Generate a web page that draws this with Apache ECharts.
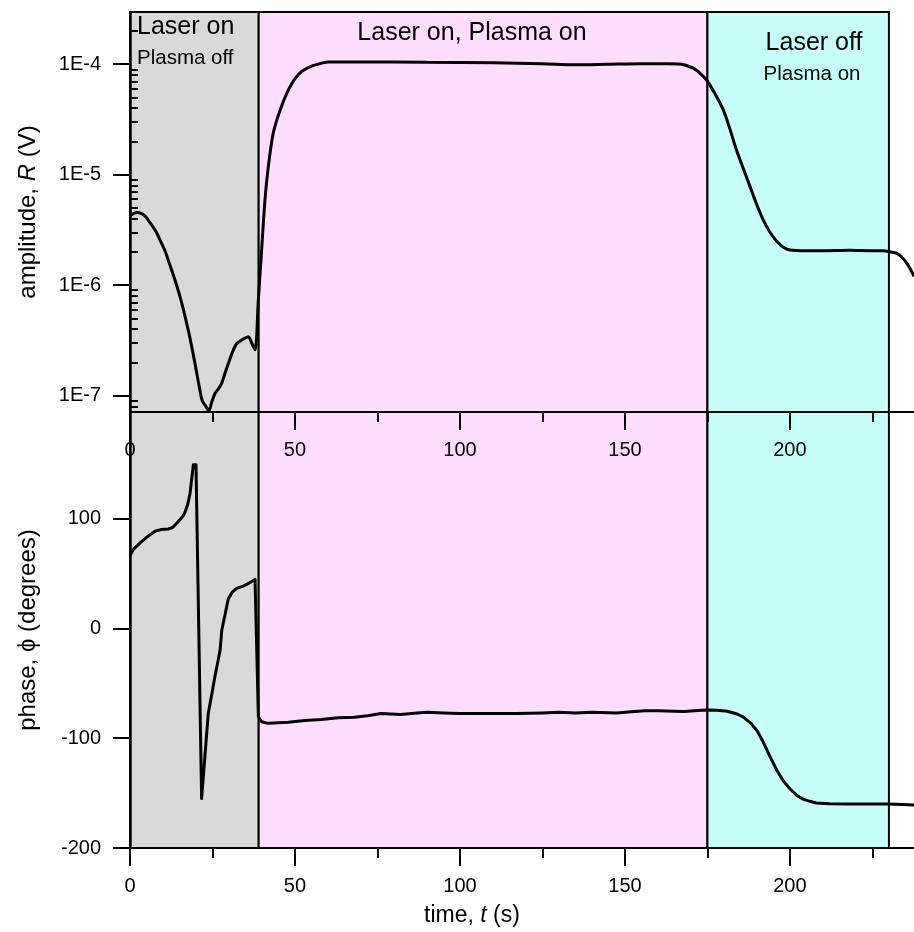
<!DOCTYPE html>
<html>
<head>
<meta charset="utf-8">
<script src="https://cdn.jsdelivr.net/npm/echarts@6/dist/echarts.min.js"></script>
<style>
  html, body { margin: 0; padding: 0; background: #fff; }
  #chart { width: 914px; height: 932px; }
</style>
</head>
<body>
<div id="chart"></div>
<script>
// Lock-in amplitude R (V) versus time t (s)
const ampTime = [0, 1, 2.3, 4.5, 6, 7.6, 9, 10.6, 12, 13.6, 15.2, 16.7, 18.2, 19.7, 21, 21.9, 23, 23.9,
  24.8, 25.8, 26.8, 27.8, 28.8, 29.8, 31, 32.3, 34, 35.8, 36.9, 37.9, 38.9, 39.9, 40.9, 41.9, 43.4,
  45.5, 48, 50, 52, 55, 58, 60, 70, 90, 110, 125, 135, 145, 155, 163, 167, 170.7, 172.7, 174.7, 177,
  179.8, 181.8, 183.8, 185.8, 187.9, 189.9, 191.9, 194, 196, 198, 200, 205, 210, 218, 225, 228.3,
  230.5, 232.3, 234, 235.4, 236.5, 237.6];
const amplitude = [4.2e-6, 4.45e-6, 4.55e-6, 4.25e-6, 3.7e-6, 3.15e-6, 2.6e-6, 2.05e-6, 1.55e-6, 1.12e-6,
  7.8e-7, 5.2e-7, 3.3e-7, 1.95e-7, 1.2e-7, 9e-8, 8e-8, 7.3e-8,
  8.8e-8, 1.05e-7, 1.15e-7, 1.3e-7, 1.6e-7, 1.95e-7, 2.45e-7, 2.95e-7, 3.2e-7, 3.42e-7, 3.0e-7, 2.6e-7,
  7.4e-7, 2.1e-6, 5.9e-6, 1.17e-5, 2.37e-5,
  3.86e-5, 5.85e-5, 7.4e-5, 8.6e-5, 9.6e-5, 1.02e-4, 1.05e-4, 1.05e-4, 1.04e-4, 1.03e-4, 1.01e-4,
  0.99e-4, 1.0e-4, 1.01e-4, 1.01e-4, 1.0e-4, 9.2e-5, 8.3e-5, 7.2e-5, 5.6e-5,
  3.86e-5, 2.6e-5, 1.67e-5, 1.15e-5, 7.8e-6, 5.4e-6, 3.9e-6, 3.0e-6, 2.5e-6, 2.2e-6, 2.08e-6, 2.05e-6,
  2.05e-6, 2.07e-6, 2.05e-6, 2.05e-6,
  2.0e-6, 1.95e-6, 1.78e-6, 1.58e-6, 1.4e-6, 1.2e-6];

// Lock-in phase (degrees) versus time t (s)
const phaseTime = [0, 1, 3.5, 5.5, 7.6, 9.5, 11.6, 13, 14.6, 16, 16.7, 17.5, 18.2, 19.2, 20, 21.7, 23.7,
  25.8, 27.3, 27.8, 29.8, 31, 32.3, 34.3, 36, 37.9, 38.9, 39.9, 41.9, 45, 48, 53, 58, 63, 68, 72, 76,
  82, 87, 90, 95, 100, 110, 117, 125, 130, 135, 140, 147.5, 152, 156, 160, 165, 168, 172, 175, 178,
  181, 184, 186, 188, 190, 192, 194, 196, 198, 200, 202, 204, 206, 208, 212, 218, 225, 230, 234, 238];
const phase = [66, 72, 79, 84, 88.5, 90, 90.5, 92, 97, 102, 106, 113, 123, 149, 149, -155, -78,
  -43, -20, -2, 27, 33, 36.4, 38.5, 41, 44.5, -80.5, -85, -86.5, -86, -85.5, -84, -83, -81.5, -81, -79.5, -77.5,
  -78.5, -77, -76.5, -77, -77.5, -77.5, -77.5, -77, -76.5, -77, -76.5, -77, -76, -75, -75, -75.5, -75.8, -74.8, -74.4, -74.5,
  -75.5, -78, -81, -86, -93, -104, -117, -129, -139, -146, -152, -155.5, -157.5, -159, -159.7, -160, -160, -160, -160.3, -161];

// Experiment stages (s): laser on / plasma off, laser on / plasma on, laser off / plasma on
const stageBounds = [0, 39, 175, 230];
const stageColors = ['#D9D9D9', '#FFDDFF', '#C6FFF9'];

// Axis ticks
const timeMajor = [0, 50, 100, 150, 200];
const timeMinor = [25, 75, 125, 175, 225];
const ampMajor = [1e-7, 1e-6, 1e-5, 1e-4];
const ampMinor = [];
[-8, -7, -6, -5, -4].forEach(function (e) {
  for (let m = 2; m <= 9; m++) ampMinor.push(+(m * Math.pow(10, e)).toPrecision(3));
});
const phaseMajor = [-200, -100, 0, 100];
const phaseMinor = [-150, -50, 50, 150];

const FONT = 'Liberation Sans, Arial, sans-serif';
const T_MAX = 237.6;

function zip(a, b) { return a.map(function (v, i) { return [v, b[i]]; }); }

function stageAreas() {
  const out = [];
  for (let i = 0; i < stageColors.length; i++) {
    out.push([
      { xAxis: stageBounds[i], itemStyle: { color: stageColors[i], borderColor: '#000', borderWidth: 2 } },
      { xAxis: stageBounds[i + 1] }
    ]);
  }
  return out;
}

function majorX(grid, ticks, withLine) {
  return {
    gridIndex: grid, type: 'value', min: 0, max: T_MAX, position: 'bottom', z: 5,
    axisLine: { show: withLine, onZero: false, lineStyle: { color: '#000', width: 2 } },
    axisTick: { show: true, inside: false, length: 18, customValues: ticks, lineStyle: { color: '#000', width: 2 } },
    axisLabel: { show: true, customValues: ticks, margin: 28, fontSize: 20, color: '#000', fontFamily: FONT },
    splitLine: { show: false }
  };
}
function minorX(grid, ticks) {
  return {
    gridIndex: grid, type: 'value', min: 0, max: T_MAX, position: 'bottom', z: 5,
    axisLine: { show: false, onZero: false },
    axisTick: { show: true, inside: false, length: 10, customValues: ticks, lineStyle: { color: '#000', width: 2 } },
    axisLabel: { show: false },
    splitLine: { show: false }
  };
}

const chart = echarts.init(document.getElementById('chart'), null, { renderer: 'canvas' });

chart.setOption({
  backgroundColor: '#fff',
  animation: false,
  grid: [
    { left: 130, top: 12, width: 784, height: 400 },
    { left: 130, top: 412, width: 784, height: 436 }
  ],
  xAxis: [
    majorX(0, timeMajor, true),
    minorX(0, timeMinor),
    Object.assign(majorX(1, timeMajor, true), {
      name: '{n|time, }{i|t}{n| (s)}', nameLocation: 'middle', nameGap: 56,
      nameTextStyle: {
        padding: [0, 100, 0, 0],
        rich: {
          n: { fontSize: 23, fontFamily: FONT, color: '#000' },
          i: { fontSize: 23, fontFamily: FONT, fontStyle: 'italic', color: '#000' }
        }
      }
    }),
    minorX(1, timeMinor)
  ],
  yAxis: [
    {
      gridIndex: 0, type: 'log', logBase: 10, min: 7.11e-8, max: 2.97e-4, z: 5,
      axisLine: { show: true, lineStyle: { color: '#000', width: 2.5 } },
      axisTick: { show: true, inside: false, length: 17, customValues: ampMajor, lineStyle: { color: '#000', width: 2 } },
      axisLabel: {
        customValues: ampMajor, margin: 29, fontSize: 20, color: '#000', fontFamily: FONT,
        formatter: function (v) { return '1E' + Math.round(Math.log10(v)); }
      },
      splitLine: { show: false },
      name: '{n|amplitude, }{i|R}{n| (V)}', nameLocation: 'middle', nameGap: 90, nameMoveOverlap: false,
      nameTextStyle: {
        rich: {
          n: { fontSize: 24, fontFamily: FONT, color: '#000' },
          i: { fontSize: 24, fontFamily: FONT, fontStyle: 'italic', color: '#000' }
        }
      }
    },
    {
      gridIndex: 0, type: 'log', logBase: 10, min: 7.11e-8, max: 2.97e-4, z: 5,
      axisLine: { show: false },
      axisTick: { show: true, inside: false, length: 8, customValues: ampMinor, lineStyle: { color: '#000', width: 2 } },
      axisLabel: { show: false },
      splitLine: { show: false }
    },
    {
      gridIndex: 1, type: 'value', min: -200, max: 197, z: 5,
      axisLine: { show: true, onZero: false, lineStyle: { color: '#000', width: 2.5 } },
      axisTick: { show: true, inside: false, length: 17, customValues: phaseMajor, lineStyle: { color: '#000', width: 2 } },
      axisLabel: { customValues: phaseMajor, margin: 29, fontSize: 20, color: '#000', fontFamily: FONT },
      splitLine: { show: false },
      name: 'phase, \u03D5 (degrees)', nameLocation: 'middle', nameGap: 90, nameMoveOverlap: false,
      nameTextStyle: { fontSize: 24, fontFamily: FONT, color: '#000' }
    },
    {
      gridIndex: 1, type: 'value', min: -200, max: 197, z: 5,
      axisLine: { show: false, onZero: false },
      axisTick: { show: true, inside: false, length: 9, customValues: phaseMinor, lineStyle: { color: '#000', width: 2 } },
      axisLabel: { show: false },
      splitLine: { show: false }
    }
  ],
  series: [
    {
      name: 'stages-top', type: 'line', xAxisIndex: 0, yAxisIndex: 0, data: [], z: 1, silent: true,
      markArea: { silent: true, data: stageAreas() }
    },
    {
      name: 'stages-bottom', type: 'line', xAxisIndex: 2, yAxisIndex: 2, data: [], z: 1, silent: true,
      markArea: { silent: true, data: stageAreas() }
    },
    {
      name: 'amplitude', type: 'line', xAxisIndex: 0, yAxisIndex: 0, z: 3,
      data: zip(ampTime, amplitude), showSymbol: false, smooth: 0.3, clip: true,
      lineStyle: { color: '#000', width: 3 }
    },
    {
      name: 'phase', type: 'line', xAxisIndex: 2, yAxisIndex: 2, z: 3,
      data: zip(phaseTime, phase), showSymbol: false, smooth: false, clip: true,
      lineStyle: { color: '#000', width: 3, join: 'round' }
    }
  ],
  graphic: [
    { type: 'text', left: 137, top: 15, z: 10, style: { text: 'Laser on', fontSize: 25, fontFamily: FONT, fill: '#000' } },
    { type: 'text', left: 137, top: 48, z: 10, style: { text: 'Plasma off', fontSize: 20.5, fontFamily: FONT, fill: '#000' } },
    { type: 'text', x: 472, y: 33, z: 10, style: { text: 'Laser on, Plasma on', fontSize: 25, fontFamily: FONT, fill: '#000', align: 'center', verticalAlign: 'middle' } },
    { type: 'text', x: 814, y: 43, z: 10, style: { text: 'Laser off', fontSize: 25, fontFamily: FONT, fill: '#000', align: 'center', verticalAlign: 'middle' } },
    { type: 'text', x: 812, y: 74, z: 10, style: { text: 'Plasma on', fontSize: 20.5, fontFamily: FONT, fill: '#000', align: 'center', verticalAlign: 'middle' } }
  ]
});
</script>
</body>
</html>
